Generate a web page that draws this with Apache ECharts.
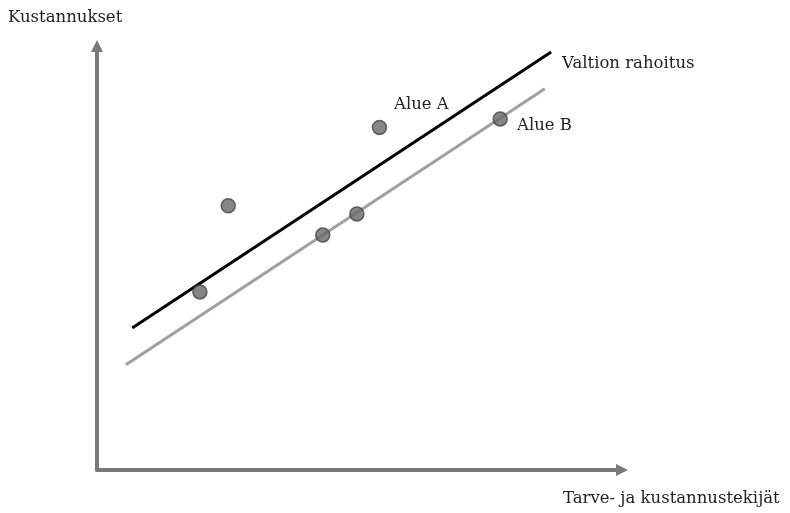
<!DOCTYPE html>
<html>
<head>
<meta charset="utf-8">
<script src="https://cdn.jsdelivr.net/npm/echarts@6/dist/echarts.min.js"></script>
<style>html,body{margin:0;padding:0;background:#fff}#c{width:790px;height:513px}</style>
</head>
<body>
<div id="c"></div>
<script>
// Schematic data (arbitrary units, 0-100 on both axes)
var fundingLine = [[6.7, 33.5], [86.5, 98.6]];      // Valtion rahoitus (black)
var costLine = [[5.5, 24.8], [85.3, 89.9]];         // lower grey line
var regionPoints = [[19.6, 42.0], [25.0, 62.3], [43.0, 55.4], [49.5, 60.4], [53.8, 80.8], [76.8, 82.8]];
var yAxisTitle = 'Kustannukset';
var xAxisTitle = 'Tarve- ja kustannustekijät';
var lineLabel = 'Valtion rahoitus';
var pointLabels = ['Alue A', 'Alue B'];

var FONT = 'DejaVu Serif';
var TXT = '#222222';
function txt(s, x, y) {
  return { type: 'text', style: { text: s, x: x, y: y, textAlign: 'left', textVerticalAlign: 'middle', font: '16.5px "' + FONT + '"', fill: TXT } };
}

var chart = echarts.init(document.getElementById('c'), null, { renderer: 'canvas' });
var axisCommon = {
  type: 'value', min: 0, max: 100,
  splitLine: { show: false }, axisTick: { show: false }, axisLabel: { show: false },
  axisLine: { show: true, symbol: ['none', 'triangle'], symbolSize: [12, 12], lineStyle: { color: '#7a7a7a', width: 4 } }
};
chart.setOption({
  animation: false,
  backgroundColor: '#ffffff',
  grid: { left: 97, right: 168, top: 46, bottom: 43 },
  xAxis: Object.assign({}, axisCommon),
  yAxis: Object.assign({}, axisCommon),
  series: [
    { name: lineLabel, type: 'line', data: fundingLine, symbol: 'none', lineStyle: { color: '#000000', width: 3 }, z: 3 },
    { name: 'Alue B taso', type: 'line', data: costLine, symbol: 'none', lineStyle: { color: '#a0a0a0', width: 3 }, z: 3 },
    { name: 'Alueet', type: 'scatter', data: regionPoints, symbolSize: 14,
      itemStyle: { color: '#686868', borderColor: '#444444', borderWidth: 1.5 }, z: 5 }
  ],
  graphic: [
    txt(yAxisTitle, 8, 18),
    txt(xAxisTitle, 563, 499),
    txt(lineLabel, 562, 64),
    txt(pointLabels[0], 394, 105),
    txt(pointLabels[1], 517, 126)
  ]
});
</script>
</body>
</html>
